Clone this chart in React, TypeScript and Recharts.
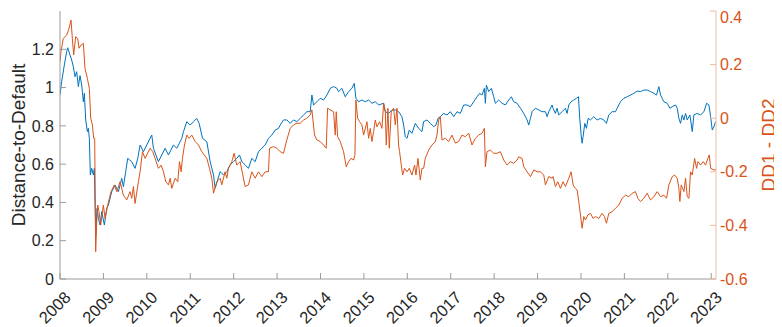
import { LineChart, Line, XAxis, YAxis } from "recharts"

// Distance-to-default (left axis), sampled along the timeline
const ddYears = [
  2008.0, 2008.038, 2008.1, 2008.154, 2008.177, 2008.231, 2008.269, 2008.307, 2008.346, 2008.384,
  2008.423, 2008.461, 2008.5, 2008.538, 2008.561, 2008.592, 2008.63, 2008.653, 2008.676, 2008.699,
  2008.73, 2008.769, 2008.792, 2008.822, 2008.853, 2008.884, 2008.922, 2008.961, 2009.022, 2009.076,
  2009.115, 2009.191, 2009.268, 2009.345, 2009.422, 2009.46, 2009.514, 2009.56, 2009.653, 2009.729,
  2009.791, 2009.845, 2009.922, 2009.998, 2010.075, 2010.114, 2010.152, 2010.267, 2010.344, 2010.421,
  2010.498, 2010.613, 2010.69, 2010.806, 2010.844, 2010.921, 2010.998, 2011.075, 2011.151, 2011.205,
  2011.282, 2011.382, 2011.459, 2011.536, 2011.574, 2011.689, 2011.766, 2011.842, 2011.919, 2011.995,
  2012.072, 2012.134, 2012.188, 2012.264, 2012.341, 2012.418, 2012.495, 2012.572, 2012.649, 2012.726,
  2012.802, 2012.879, 2012.956, 2013.033, 2013.072, 2013.148, 2013.225, 2013.302, 2013.379, 2013.456,
  2013.533, 2013.61, 2013.686, 2013.763, 2013.802, 2013.84, 2013.917, 2013.994, 2014.071, 2014.148,
  2014.225, 2014.301, 2014.378, 2014.417, 2014.494, 2014.57, 2014.647, 2014.724, 2014.778, 2014.816,
  2014.878, 2014.955, 2015.032, 2015.108, 2015.185, 2015.262, 2015.339, 2015.454, 2015.492, 2015.569,
  2015.646, 2015.723, 2015.799, 2015.876, 2015.915, 2015.953, 2015.992, 2016.045, 2016.107, 2016.184,
  2016.261, 2016.337, 2016.376, 2016.453, 2016.53, 2016.607, 2016.66, 2016.706, 2016.76, 2016.837,
  2016.914, 2016.991, 2017.068, 2017.145, 2017.221, 2017.298, 2017.375, 2017.452, 2017.529, 2017.606,
  2017.667, 2017.721, 2017.775, 2017.798, 2017.821, 2017.875, 2017.936, 2017.99, 2018.029, 2018.105,
  2018.182, 2018.259, 2018.336, 2018.397, 2018.451, 2018.528, 2018.605, 2018.682, 2018.759, 2018.797,
  2018.836, 2018.874, 2018.951, 2019.028, 2019.105, 2019.181, 2019.22, 2019.258, 2019.335, 2019.357,
  2019.411, 2019.45, 2019.488, 2019.565, 2019.642, 2019.68, 2019.719, 2019.773, 2019.834, 2019.896,
  2019.942, 2019.972, 2020.003, 2020.026, 2020.049, 2020.088, 2020.126, 2020.165, 2020.218, 2020.295,
  2020.372, 2020.449, 2020.526, 2020.587, 2020.641, 2020.718, 2020.795, 2020.833, 2020.91, 2020.987,
  2021.064, 2021.141, 2021.218, 2021.294, 2021.371, 2021.448, 2021.525, 2021.602, 2021.679, 2021.74,
  2021.794, 2021.833, 2021.909, 2021.986, 2022.048, 2022.102, 2022.178, 2022.217, 2022.255, 2022.294,
  2022.332, 2022.371, 2022.409, 2022.447, 2022.509, 2022.563, 2022.601, 2022.678, 2022.755, 2022.832,
  2022.893, 2022.947, 2022.986, 2023.024, 2023.063, 2023.101,
]
const ddValues = [
  0.961, 1.031, 1.118, 1.188, 1.208, 1.17, 1.144, 1.109, 1.057, 1.083,
  1.005, 1.062, 1.013, 0.926, 0.97, 0.831, 0.77, 0.787, 0.735, 0.543,
  0.578, 0.543, 0.578, 0.23, 0.369, 0.317, 0.282, 0.352, 0.282, 0.369,
  0.387, 0.456, 0.491, 0.456, 0.526, 0.482, 0.561, 0.63, 0.613, 0.578,
  0.63, 0.7, 0.665, 0.7, 0.735, 0.752, 0.683, 0.613, 0.648, 0.683,
  0.648, 0.7, 0.683, 0.735, 0.77, 0.822, 0.804, 0.822, 0.839, 0.813,
  0.735, 0.717, 0.613, 0.543, 0.474, 0.561, 0.543, 0.561, 0.596, 0.613,
  0.63, 0.648, 0.613, 0.596, 0.578, 0.63, 0.613, 0.665, 0.683, 0.7,
  0.735, 0.752, 0.778, 0.787, 0.804, 0.831, 0.831, 0.813, 0.831, 0.822,
  0.839, 0.857, 0.874, 0.874, 0.961, 0.909, 0.926, 0.944, 0.935, 0.961,
  0.996, 1.005, 0.996, 0.979, 0.996, 0.952, 0.979, 0.996, 1.022, 0.944,
  0.926, 0.935, 0.926, 0.935, 0.918, 0.926, 0.909, 0.918, 0.874, 0.865,
  0.883, 0.883, 0.874, 0.848, 0.804, 0.744, 0.735, 0.778, 0.761, 0.813,
  0.787, 0.77, 0.822, 0.831, 0.813, 0.796, 0.804, 0.839, 0.848, 0.865,
  0.857, 0.874, 0.848, 0.874, 0.865, 0.909, 0.909, 0.9, 0.926, 0.952,
  0.97, 0.961, 0.996, 0.918, 1.013, 0.979, 0.996, 0.952, 0.918, 0.935,
  0.918, 0.909, 0.935, 0.952, 0.926, 0.918, 0.892, 0.865, 0.831, 0.804,
  0.839, 0.874, 0.892, 0.883, 0.874, 0.874, 0.848, 0.874, 0.909, 0.892,
  0.865, 0.892, 0.857, 0.874, 0.892, 0.865, 0.909, 0.926, 0.935, 0.944,
  0.952, 0.839, 0.752, 0.709, 0.744, 0.813, 0.787, 0.839, 0.831, 0.848,
  0.831, 0.839, 0.831, 0.813, 0.857, 0.874, 0.874, 0.892, 0.926, 0.944,
  0.952, 0.961, 0.97, 0.982, 0.979, 0.987, 0.987, 0.979, 0.97, 0.961,
  1.005, 0.961, 0.926, 0.918, 0.892, 0.9, 0.909, 0.892, 0.839, 0.813,
  0.857, 0.831, 0.865, 0.831, 0.857, 0.77, 0.857, 0.865, 0.857, 0.874,
  0.918, 0.909, 0.848, 0.778, 0.796, 0.822,
]

// DD1 - DD2 spread (right axis)
const spreadYears = [
  2008.0, 2008.023, 2008.077, 2008.154, 2008.208, 2008.254, 2008.284, 2008.315, 2008.361, 2008.407,
  2008.438, 2008.484, 2008.538, 2008.576, 2008.63, 2008.676, 2008.707, 2008.746, 2008.776, 2008.799,
  2008.822, 2008.846, 2008.869, 2008.899, 2008.938, 2008.999, 2009.038, 2009.099, 2009.176, 2009.253,
  2009.307, 2009.384, 2009.46, 2009.537, 2009.614, 2009.653, 2009.691, 2009.729, 2009.806, 2009.845,
  2009.899, 2009.96, 2010.075, 2010.137, 2010.191, 2010.267, 2010.329, 2010.383, 2010.437, 2010.498,
  2010.537, 2010.575, 2010.652, 2010.713, 2010.752, 2010.79, 2010.821, 2010.867, 2010.921, 2010.975,
  2011.036, 2011.113, 2011.19, 2011.267, 2011.382, 2011.443, 2011.497, 2011.536, 2011.613, 2011.689,
  2011.726, 2011.803, 2011.842, 2011.88, 2011.957, 2012.011, 2012.072, 2012.149, 2012.211, 2012.264,
  2012.341, 2012.418, 2012.495, 2012.572, 2012.649, 2012.726, 2012.802, 2012.826, 2012.918, 2012.995,
  2013.072, 2013.148, 2013.225, 2013.302, 2013.379, 2013.456, 2013.533, 2013.61, 2013.686, 2013.763,
  2013.802, 2013.863, 2013.917, 2013.994, 2014.071, 2014.132, 2014.163, 2014.225, 2014.301, 2014.34,
  2014.363, 2014.394, 2014.455, 2014.532, 2014.593, 2014.647, 2014.701, 2014.763, 2014.793, 2014.816,
  2014.855, 2014.901, 2014.955, 2014.993, 2015.07, 2015.108, 2015.147, 2015.185, 2015.224, 2015.262,
  2015.3, 2015.362, 2015.416, 2015.454, 2015.493, 2015.515, 2015.553, 2015.584, 2015.63, 2015.684,
  2015.723, 2015.761, 2015.799, 2015.822, 2015.861, 2015.892, 2015.938, 2015.992, 2016.045, 2016.107,
  2016.168, 2016.199, 2016.245, 2016.299, 2016.337, 2016.376, 2016.414, 2016.491, 2016.568, 2016.645,
  2016.683, 2016.722, 2016.76, 2016.799, 2016.876, 2016.952, 2017.029, 2017.106, 2017.183, 2017.26,
  2017.337, 2017.414, 2017.49, 2017.567, 2017.644, 2017.721, 2017.775, 2017.798, 2017.836, 2017.913,
  2017.99, 2018.067, 2018.144, 2018.221, 2018.298, 2018.374, 2018.451, 2018.528, 2018.566, 2018.643,
  2018.682, 2018.759, 2018.836, 2018.913, 2018.99, 2019.066, 2019.143, 2019.181, 2019.258, 2019.335,
  2019.357, 2019.411, 2019.465, 2019.527, 2019.588, 2019.642, 2019.719, 2019.773, 2019.819, 2019.872,
  2019.911, 2019.949, 2019.988, 2020.026, 2020.065, 2020.103, 2020.157, 2020.218, 2020.28, 2020.334,
  2020.411, 2020.487, 2020.541, 2020.587, 2020.641, 2020.718, 2020.795, 2020.872, 2020.949, 2021.025,
  2021.102, 2021.179, 2021.256, 2021.31, 2021.371, 2021.448, 2021.525, 2021.602, 2021.679, 2021.756,
  2021.833, 2021.909, 2021.971, 2022.025, 2022.102, 2022.155, 2022.217, 2022.255, 2022.278, 2022.309,
  2022.371, 2022.409, 2022.447, 2022.486, 2022.524, 2022.563, 2022.617, 2022.663, 2022.694, 2022.755,
  2022.816, 2022.87, 2022.909, 2022.955, 2022.986, 2023.063, 2023.116,
]
const spreadValues = [
  0.211, 0.248, 0.298, 0.31, 0.335, 0.366, 0.298, 0.236, 0.304, 0.298,
  0.261, 0.273, 0.279, 0.186, 0.149, 0.111, 0.0, -0.025, -0.075, -0.075,
  -0.498, -0.386, -0.324, -0.349, -0.399, -0.324, -0.374, -0.324, -0.274, -0.249,
  -0.274, -0.237, -0.287, -0.305, -0.274, -0.299, -0.255, -0.318, -0.237, -0.2,
  -0.125, -0.15, -0.112, -0.125, -0.15, -0.187, -0.175, -0.2, -0.237, -0.249,
  -0.224, -0.262, -0.224, -0.237, -0.162, -0.2, -0.15, -0.1, -0.063, -0.075,
  -0.063, -0.087, -0.1, -0.125, -0.15, -0.187, -0.224, -0.28, -0.237, -0.224,
  -0.249, -0.2, -0.224, -0.187, -0.162, -0.131, -0.175, -0.162, -0.212, -0.255,
  -0.249, -0.2, -0.224, -0.2, -0.218, -0.2, -0.2, -0.112, -0.106, -0.112,
  -0.125, -0.131, -0.081, -0.038, -0.025, -0.019, -0.019, -0.007, 0.0, 0.012,
  0.031, -0.063, -0.081, -0.087, -0.1, -0.112, 0.037, 0.031, 0.024, -0.063,
  0.024, -0.069, -0.087, -0.125, -0.181, -0.162, -0.15, -0.156, -0.137, 0.068,
  0.0, -0.013, -0.025, -0.063, -0.013, -0.075, -0.038, -0.087, -0.05, -0.007,
  -0.032, -0.013, -0.038, 0.055, 0.024, -0.1, 0.037, -0.112, 0.024, 0.037,
  -0.025, 0.037, -0.1, -0.125, -0.175, -0.212, -0.187, -0.2, -0.187, -0.212,
  -0.175, -0.212, -0.15, -0.231, -0.187, -0.187, -0.15, -0.119, -0.1, -0.087,
  -0.063, -0.007, 0.006, -0.081, -0.075, -0.087, -0.063, -0.093, -0.087, -0.063,
  -0.069, -0.056, -0.1, -0.075, -0.063, -0.056, -0.038, -0.181, -0.125, -0.119,
  -0.131, -0.131, -0.125, -0.156, -0.175, -0.162, -0.168, -0.156, -0.144, -0.15,
  -0.181, -0.2, -0.218, -0.193, -0.2, -0.2, -0.212, -0.249, -0.218, -0.224,
  -0.218, -0.255, -0.237, -0.262, -0.237, -0.255, -0.224, -0.2, -0.249, -0.262,
  -0.268, -0.311, -0.361, -0.411, -0.367, -0.38, -0.361, -0.355, -0.374, -0.367,
  -0.374, -0.355, -0.367, -0.392, -0.355, -0.349, -0.336, -0.324, -0.299, -0.287,
  -0.293, -0.28, -0.274, -0.299, -0.311, -0.299, -0.28, -0.305, -0.293, -0.274,
  -0.293, -0.287, -0.299, -0.249, -0.218, -0.212, -0.224, -0.262, -0.311, -0.249,
  -0.274, -0.224, -0.293, -0.299, -0.2, -0.212, -0.15, -0.187, -0.162, -0.175,
  -0.162, -0.175, -0.156, -0.137, -0.187, -0.193, -0.193,
]

const yearTicks = [2008, 2009, 2010, 2011, 2012, 2013, 2014, 2015, 2016, 2017, 2018, 2019, 2020, 2021, 2022, 2023]
const leftTicks = [0, 0.2, 0.4, 0.6, 0.8, 1, 1.2]
const rightTicks = [-0.6, -0.4, -0.2, 0, 0.2, 0.4]

const BLUE = "#0072BD"
const ORANGE = "#D95319"
const FRAME = "#9a9a9a"
const ORANGE_AXIS = "#f0bda3"
const TEXT = "#262626"
const FONT = "'Liberation Sans', Arial, Helvetica, sans-serif"

const X_DOMAIN: [number, number] = [2008, 2023.11]

const ddData = ddYears.map((t, i) => ({ t, v: ddValues[i] }))
const spreadData = spreadYears.map((t, i) => ({ t, v: spreadValues[i] }))

// rotated year labels, centred a little below and left of each tick
function YearTick({ x, y, payload }: any) {
  const cx = x - 5.3
  const cy = y + 28.5
  return (
    <text
      x={cx}
      y={cy}
      dy="0.35em"
      textAnchor="middle"
      fontSize={16.5}
      fill={TEXT}
      transform={`rotate(-45 ${cx} ${cy})`}
    >
      {payload.value}
    </text>
  )
}

// vertical axis title; shift is measured from the left edge of the axis box
function AxisTitle({ viewBox, text, shift, color }: any) {
  const vb = viewBox || { x: 0, y: 3, width: 52, height: 268 }
  const cx = vb.x + shift
  const cy = vb.y + vb.height / 2
  return (
    <text
      x={cx}
      y={cy}
      dy="0.35em"
      textAnchor="middle"
      fontSize={19}
      fill={color}
      transform={`rotate(-90 ${cx} ${cy})`}
    >
      {text}
    </text>
  )
}

export default function App() {
  return (
    <div style={{ width: 774, height: 319, fontFamily: FONT }}>
      <LineChart width={774} height={319} margin={{ top: 3, right: 0, bottom: 0, left: 0 }}>
        <XAxis
          xAxisId="bottom"
          type="number"
          dataKey="t"
          domain={X_DOMAIN}
          ticks={yearTicks}
          allowDataOverflow
          height={48}
          stroke={FRAME}
          tickSize={-6}
          tickMargin={6}
          tick={<YearTick />}
        />
        <XAxis
          xAxisId="top"
          orientation="top"
          type="number"
          dataKey="t"
          domain={X_DOMAIN}
          ticks={yearTicks}
          allowDataOverflow
          height={0}
          stroke={FRAME}
          tickSize={-6}
          tick={false}
        />
        <YAxis
          yAxisId="left"
          width={52}
          domain={[0, 1.4]}
          ticks={leftTicks}
          allowDataOverflow
          stroke={FRAME}
          tickSize={-6}
          tickMargin={12}
          tick={{ fontSize: 16, fill: TEXT }}
          label={<AxisTitle text="Distance-to-Default" shift={10} color={TEXT} />}
        />
        <YAxis
          yAxisId="right"
          orientation="right"
          width={66}
          domain={[-0.6, 0.4]}
          ticks={rightTicks}
          allowDataOverflow
          stroke={ORANGE_AXIS}
          tickSize={-6}
          tickMargin={10}
          tick={{ fontSize: 16, fill: ORANGE }}
          label={<AxisTitle text="DD1 - DD2" shift={52} color={ORANGE} />}
        />
        <Line
          xAxisId="bottom"
          yAxisId="left"
          data={ddData}
          dataKey="v"
          type="linear"
          stroke={BLUE}
          strokeWidth={1}
          dot={false}
          isAnimationActive={false}
        />
        <Line
          xAxisId="bottom"
          yAxisId="right"
          data={spreadData}
          dataKey="v"
          type="linear"
          stroke={ORANGE}
          strokeWidth={1}
          dot={false}
          isAnimationActive={false}
        />
      </LineChart>
    </div>
  )
}
